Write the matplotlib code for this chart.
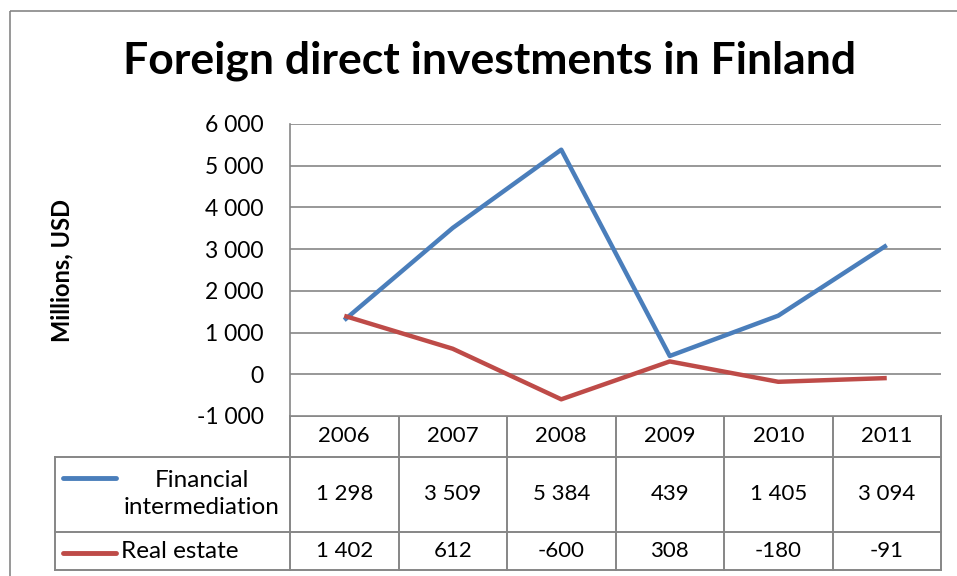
import matplotlib.pyplot as plt
from matplotlib.patches import Rectangle

years = ['2006', '2007', '2008', '2009', '2010', '2011']
financial = [1298, 3509, 5384, 439, 1405, 3094]
real_estate = [1402, 612, -600, 308, -180, -91]
series_names = ['Financial\nintermediation', 'Real estate']
y_ticks = [-1000, 0, 1000, 2000, 3000, 4000, 5000, 6000]

BLUE = '#4A7EBB'
RED = '#BE4B48'
GRID = '#868686'
W, H = 957, 576

plt.rcParams['font.family'] = ['Lato', 'DejaVu Sans']


def fmt(v):
    return f'{v:,}'.replace(',', ' ')


fig = plt.figure(figsize=(W / 100, H / 100), dpi=100)
fig.patch.set_facecolor('white')

# overlay in pixel coordinates for the frame and table
over = fig.add_axes([0, 0, 1, 1])
over.set_xlim(0, W)
over.set_ylim(H, 0)
over.axis('off')

# main plot area
L, R, T, B = 290, 941, 124, 416
ax = fig.add_axes([L / W, 1 - B / H, (R - L) / W, (B - T) / H])
x = list(range(len(years)))
ax.plot(x, financial, color=BLUE, lw=3.2, solid_capstyle='butt', zorder=3)
ax.plot(x, real_estate, color=RED, lw=3.2, solid_capstyle='butt', zorder=3)
ax.set_xlim(-0.5, len(years) - 0.5)
ax.set_ylim(-1000, 6000)
ax.set_yticks(y_ticks)
ax.set_yticklabels([fmt(v) for v in y_ticks], fontsize=16.5)
ax.set_xticks([])
ax.yaxis.grid(True, color=GRID, lw=1.2)
ax.set_axisbelow(True)
for s in ['top', 'right', 'bottom']:
    ax.spines[s].set_visible(False)
ax.spines['left'].set_color(GRID)
ax.spines['left'].set_linewidth(1.2)
ax.tick_params(axis='y', length=0, pad=19)

# outer chart border
over.add_patch(Rectangle((10, 11), 960, 600, fill=False, ec=GRID, lw=1.2))

# title and axis label
over.text(490, 61, 'Foreign direct investments in Finland', ha='center',
          va='center', fontsize=32, fontweight='bold')
over.text(62, 270, 'Millions, USD', ha='center', va='center', rotation=90,
          fontsize=17, fontweight='bold')

# data table
col_w = (R - L) / len(years)
edges = [L + i * col_w for i in range(len(years) + 1)]
r0, r1, r2, r3 = B, 457, 532, 570
lab_left = 55
tkw = dict(color=GRID, lw=1.4)
over.plot([L, R], [r0, r0], **tkw)
over.plot([lab_left, R], [r1, r1], **tkw)
over.plot([lab_left, R], [r2, r2], **tkw)
over.plot([lab_left, R], [r3, r3], **tkw)
over.plot([lab_left, lab_left], [r1, r3], **tkw)
for e in edges:
    over.plot([e, e], [r0, r3], **tkw)

for i, yr in enumerate(years):
    cx = (edges[i] + edges[i + 1]) / 2
    over.text(cx, (r0 + r1) / 2, yr, ha='center', va='center', fontsize=16)
    over.text(cx, (r1 + r2) / 2, fmt(financial[i]), ha='center',
              va='center', fontsize=16)
    over.text(cx, (r2 + r3) / 2, fmt(real_estate[i]), ha='center',
              va='center', fontsize=16)

# legend keys inside the table
over.plot([63, 116], [478, 478], color=BLUE, lw=3.5, solid_capstyle='round')
over.plot([63, 116], [553, 553], color=RED, lw=3.5, solid_capstyle='round')
over.text(202, 494, series_names[0], ha='center', va='center', fontsize=17.5,
          linespacing=1.3)
over.text(121, 551, series_names[1], ha='left', va='center', fontsize=17.5)

fig.savefig('out.png', dpi=100)
